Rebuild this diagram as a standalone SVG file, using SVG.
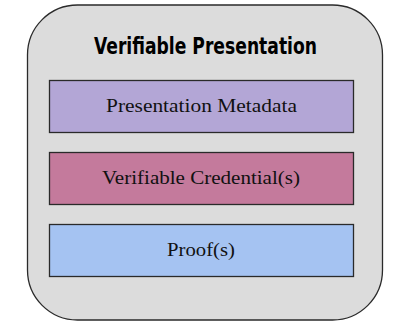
<svg xmlns="http://www.w3.org/2000/svg" width="408" height="328" viewBox="0 0 408 328">
<style>
.outer{fill:#dcdcdc;stroke:#2a2a2a;stroke-width:1.3}
.box{stroke:#2a2a2a;stroke-width:1.3}
.title{font-family:"Liberation Sans Narrow","DejaVu Sans Condensed","Liberation Sans",sans-serif;font-weight:bold;font-size:23px;fill:#000;text-anchor:middle}
.lbl{font-family:"Liberation Serif","DejaVu Serif",serif;font-size:19.5px;fill:#111;text-anchor:middle}
</style>
<rect x="0" y="0" width="408" height="328" fill="#fff"/>
<g id="presentation">
<rect class="outer" x="27.5" y="5" width="355" height="315" rx="50" ry="50"/>
<text class="title" x="205.5" y="53.5" textLength="223" lengthAdjust="spacingAndGlyphs">Verifiable Presentation</text>
</g>
<g id="metadata">
<rect class="box" x="49.5" y="80.5" width="304" height="52" fill="#b3a6d6"/>
<text class="lbl" x="201.5" y="112" textLength="191" lengthAdjust="spacingAndGlyphs">Presentation Metadata</text>
</g>
<g id="credentials">
<rect class="box" x="49.5" y="152.5" width="304" height="52" fill="#c47a9c"/>
<text class="lbl" x="201" y="184" textLength="198" lengthAdjust="spacingAndGlyphs">Verifiable Credential(s)</text>
</g>
<g id="proofs">
<rect class="box" x="49.5" y="224.5" width="304" height="52" fill="#a5c3f2"/>
<text class="lbl" x="201" y="256" textLength="68" lengthAdjust="spacingAndGlyphs">Proof(s)</text>
</g>
<g id="connectors"/>
</svg>
